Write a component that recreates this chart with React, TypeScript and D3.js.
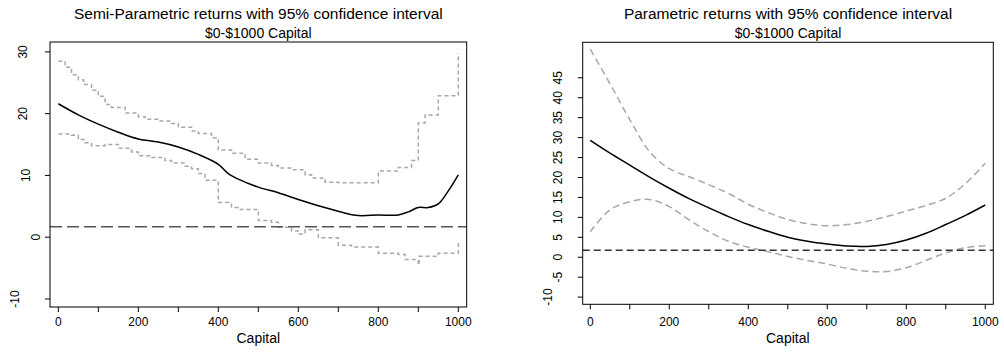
import React from "react";
import * as d3 from "d3";

// ---- data ----
const semiMeanX = [0, 50, 100, 150, 200, 250, 300, 350, 400, 425, 450, 500, 550, 600, 650, 700, 750, 800, 850, 875, 900, 925, 950, 975, 1000];
const semiMean = [21.6, 19.8, 18.3, 17.0, 15.9, 15.4, 14.6, 13.4, 11.8, 10.3, 9.4, 8.1, 7.2, 6.1, 5.1, 4.2, 3.5, 3.6, 3.6, 4.1, 4.8, 4.8, 5.4, 7.5, 10.1];

const semiUpperX = [0, 17, 33, 50, 63, 83, 100, 117, 133, 167, 200, 217, 250, 283, 300, 333, 350, 383, 400, 433, 467, 500, 533, 550, 583, 617, 633, 667, 700, 750, 800, 850, 883, 900, 917, 950, 1000];
const semiUpper = [28.5, 27.5, 26.3, 25.5, 24.7, 23.8, 22.8, 21.5, 21.0, 20.1, 19.5, 19.1, 18.8, 18.4, 17.8, 17.2, 16.8, 16.1, 14.1, 13.6, 12.6, 12.0, 11.6, 11.2, 10.9, 10.1, 9.6, 8.9, 8.8, 8.8, 10.7, 11.3, 12.4, 18.5, 19.8, 22.9, 29.8];

const semiLowerX = [0, 33, 50, 67, 83, 117, 150, 183, 200, 233, 267, 283, 317, 333, 350, 367, 400, 433, 450, 500, 533, 550, 583, 600, 617, 650, 700, 733, 800, 850, 867, 900, 902, 950, 1000];
const semiLower = [16.7, 16.5, 15.8, 15.3, 14.8, 15.0, 14.4, 13.8, 13.2, 12.9, 12.4, 12.0, 11.5, 11.1, 10.3, 9.2, 5.6, 4.8, 4.5, 2.7, 2.4, 1.6, 1.0, 0.5, 1.2, -0.1, -1.3, -1.6, -2.6, -2.8, -3.6, -4.5, -3.1, -2.6, -0.7];

const paraX = [0, 50, 100, 150, 200, 250, 300, 350, 400, 450, 500, 550, 600, 650, 700, 750, 800, 850, 900, 950, 1000];
const paraMean = [29.3, 26.1, 23.1, 20.1, 17.3, 14.7, 12.4, 10.2, 8.2, 6.5, 5.0, 4.0, 3.3, 2.8, 2.7, 3.2, 4.3, 6.0, 8.2, 10.5, 13.1];
const paraUpper = [52.2, 43.5, 34.5, 26.5, 22.2, 20.2, 18.2, 16.0, 13.3, 11.2, 9.5, 8.4, 7.9, 8.2, 9.0, 10.2, 11.6, 13.0, 14.8, 18.5, 23.6];
const paraLower = [6.4, 11.9, 13.9, 14.5, 12.7, 9.4, 6.4, 4.0, 2.5, 1.4, 0.2, -0.8, -1.7, -2.8, -3.5, -3.6, -2.6, -0.8, 1.1, 2.4, 2.9];

const semiRef = 1.7;
const paraRef = 1.75;

const xTicks = [0, 100, 200, 300, 400, 500, 600, 700, 800, 900, 1000];
const xTickLabels = ["0", "", "200", "", "400", "", "600", "", "800", "", "1000"];
const semiYTicks = [-10, 0, 10, 20, 30];
const paraYTicks = [-10, -5, 0, 5, 10, 15, 20, 25, 30, 35, 40, 45];

const FONT = "'Liberation Sans', Arial, Helvetica, sans-serif";

type Pt = [number, number];
const zip = (xs: number[], ys: number[]): Pt[] => xs.map((x, i) => [x, ys[i]] as Pt);

type Frame = { left: number; right: number; top: number; bottom: number };

function Panel(props: {
  frame: Frame;
  xDomain: [number, number];
  yDomain: [number, number];
  title: string;
  yTicks: number[];
  labelX: (v: number) => number;
  mean: Pt[];
  upper: Pt[];
  lower: Pt[];
  ciCurve: d3.CurveFactory;
  ciDash: string;
  refValue: number;
  refDash: string;
  refColor: string;
}) {
  const { frame, title } = props;
  const x = d3.scaleLinear().domain(props.xDomain).range([frame.left, frame.right]);
  const y = d3.scaleLinear().domain(props.yDomain).range([frame.bottom, frame.top]);
  const smooth = d3.line<Pt>().x((d) => x(d[0])).y((d) => y(d[1])).curve(d3.curveCatmullRom);
  const ci = d3.line<Pt>().x((d) => x(d[0])).y((d) => y(d[1])).curve(props.ciCurve);
  const cx = (frame.left + frame.right) / 2;

  return (
    <g fontFamily={FONT}>
      <text x={cx} y={19} textAnchor="middle" fontSize={15.5}>{title}</text>
      <text x={cx} y={37.5} textAnchor="middle" fontSize={14}>$0-$1000 Capital</text>

      <path d={ci(props.upper)!} fill="none" stroke="#a8a8a8" strokeWidth={1.5} strokeDasharray={props.ciDash} />
      <path d={ci(props.lower)!} fill="none" stroke="#a8a8a8" strokeWidth={1.5} strokeDasharray={props.ciDash} />
      <path d={smooth(props.mean)!} fill="none" stroke="#000" strokeWidth={1.5} />
      <line x1={frame.left} x2={frame.right} y1={y(props.refValue)} y2={y(props.refValue)}
        stroke={props.refColor} strokeWidth={1.5} strokeDasharray={props.refDash} />

      <rect x={frame.left} y={frame.top} width={frame.right - frame.left} height={frame.bottom - frame.top}
        fill="none" stroke="#000" strokeWidth={1} />

      {xTicks.map((t, i) => (
        <g key={t}>
          <line x1={x(t)} x2={x(t)} y1={frame.bottom} y2={frame.bottom + 5} stroke="#000" />
          {xTickLabels[i] && (
            <text x={x(t)} y={326} textAnchor="middle" fontSize={12}>{xTickLabels[i]}</text>
          )}
        </g>
      ))}
      <text x={x(500)} y={343} textAnchor="middle" fontSize={14}>Capital</text>

      {props.yTicks.map((t) => (
        <g key={t}>
          <line x1={frame.left - 5} x2={frame.left} y1={y(t)} y2={y(t)} stroke="#000" />
          <text transform={`translate(${props.labelX(t)},${y(t)}) rotate(-90)`} dy="0.35em"
            textAnchor="middle" fontSize={12}>{t}</text>
        </g>
      ))}
    </g>
  );
}

const semiLabelX: Record<number, number> = { 30: 22.5, 20: 22.5, 10: 26, 0: 36, [-10]: 15 };

export default function App() {
  return (
    <svg width={1004} height={352} style={{ position: "absolute", left: 0, top: 0, background: "#fff" }}>
      <rect width={1004} height={352} fill="#fff" />
      <Panel
        frame={{ left: 50, right: 466.7, top: 42, bottom: 307 }}
        xDomain={[-20.8, 1021]}
        yDomain={[-11.3, 31.6]}
        title="Semi-Parametric returns with 95% confidence interval"
        yTicks={semiYTicks}
        labelX={(v) => semiLabelX[v] ?? 22.5}
        mean={zip(semiMeanX, semiMean)}
        upper={zip(semiUpperX, semiUpper)}
        lower={zip(semiLowerX, semiLower)}
        ciCurve={d3.curveStepAfter}
        ciDash="4,3"
        refValue={semiRef}
        refDash="12,5"
        refColor="#555"
      />
      <Panel
        frame={{ left: 582.7, right: 993.3, top: 42.3, bottom: 304.3 }}
        xDomain={[-19.2, 1020.3]}
        yDomain={[-11.8, 53.9]}
        title="Parametric returns with 95% confidence interval"
        yTicks={paraYTicks}
        labelX={(v) => (v === -10 ? 547.5 : 557.5)}
        mean={zip(paraX, paraMean)}
        upper={zip(paraX, paraUpper)}
        lower={zip(paraX, paraLower)}
        ciCurve={d3.curveCatmullRom}
        ciDash="7,4"
        refValue={paraRef}
        refDash="7,4"
        refColor="#333"
      />
    </svg>
  );
}
